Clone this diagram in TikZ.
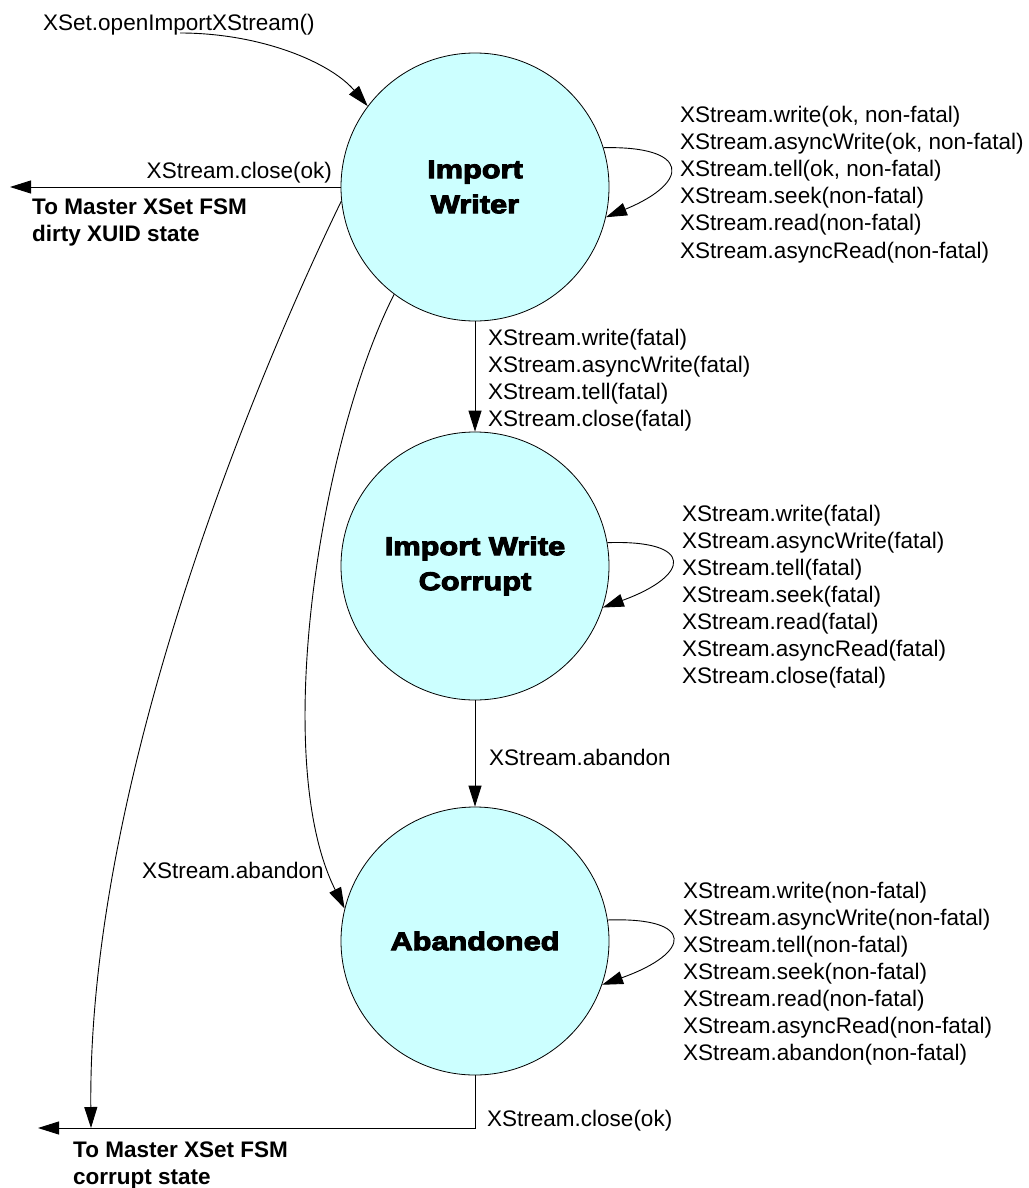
\documentclass[tikz,border=0pt]{standalone}
\usepackage{fontspec}
\setmainfont{Liberation Sans}
\newfontface\statefont{Liberation Sans Bold}[FakeStretch=1.2,FakeBold=4]
\usetikzlibrary{arrows.meta}
\definecolor{statecol}{HTML}{CCFFFF}
\begin{document}
\begin{tikzpicture}[x=1pt,y=-1pt,
  lbl/.style={font=\fontsize{22.5}{27}\selectfont, inner sep=0pt, anchor=base west},
  blbl/.style={font=\bfseries\fontsize{22.5}{27}\selectfont, inner sep=0pt, anchor=base west},
  state/.style={circle, draw=black, line width=0.8pt, fill=statecol, minimum size=268pt, inner sep=0pt,
    font=\statefont\fontsize{25.6}{35}\selectfont, align=center},
  arr/.style={line width=0.9pt, -{Triangle[length=21pt,width=13pt]}},
  plain/.style={line width=0.9pt}]
\useasboundingbox (0,0) rectangle (1028,1188);

% states
\node[state] (IW) at (475,187) {Import\\Writer};
\node[state] (IWC) at (475,566) {Import Write\\Corrupt};
\node[state] (AB) at (475,941) {Abandoned};

% helper coordinates
\coordinate (startTop) at (180,33);
\coordinate (dirtyEnd) at (10,187);
\coordinate (bend) at (475,1128);
\coordinate (corruptEnd) at (38,1128);
\coordinate (corruptHit) at (91,1128);

% connectors
\draw[arr] (startTop) .. controls (260,33) and (330,62) .. (IW.143);
\draw[arr] (IW.180) -- (dirtyEnd);
\draw[arr] (IW.south) -- (IWC.north);
\draw[arr] (IWC.south) -- (AB.north);
\draw[arr] (IW.186) .. controls (245,400) and (88,790) .. (corruptHit);
\draw[arr] (IW.233) .. controls (320,440) and (270,760) .. (AB.166);
\draw[arr] (IW.17) .. controls +(87,-2) and +(85,-35) .. (IW.-13);
\draw[arr] (IWC.10) .. controls +(88,-3) and +(88,-32) .. (IWC.-18);
\draw[arr] (AB.9) .. controls +(88,-3) and +(90,-32) .. (AB.-19);
\draw[arr] (AB.south) -- (bend) -- (corruptEnd);

% labels
\node[lbl] (tOpen) at (43,31) {XSet.openImportXStream()};
\node[lbl, anchor=base east] (tCloseOk) at (332,178) {XStream.close(ok)};
\node[blbl] (tDirty) at (32,214) {\begin{tabular}[t]{@{}l@{}}To Master XSet FSM\\dirty XUID state\end{tabular}};
\node[lbl] (tLoop1) at (680,123) {\begin{tabular}[t]{@{}l@{}}XStream.write(ok, non-fatal)\\XStream.asyncWrite(ok, non-fatal)\\XStream.tell(ok, non-fatal)\\XStream.seek(non-fatal)\\XStream.read(non-fatal)\\XStream.asyncRead(non-fatal)\end{tabular}};
\node[lbl] (tFatal) at (488,345) {\begin{tabular}[t]{@{}l@{}}XStream.write(fatal)\\XStream.asyncWrite(fatal)\\XStream.tell(fatal)\\XStream.close(fatal)\end{tabular}};
\node[lbl] (tLoop2) at (682,521) {\begin{tabular}[t]{@{}l@{}}XStream.write(fatal)\\XStream.asyncWrite(fatal)\\XStream.tell(fatal)\\XStream.seek(fatal)\\XStream.read(fatal)\\XStream.asyncRead(fatal)\\XStream.close(fatal)\end{tabular}};
\node[lbl] (tAband1) at (489,765) {XStream.abandon};
\node[lbl] (tAband2) at (142,878) {XStream.abandon};
\node[lbl] (tLoop3) at (683,898) {\begin{tabular}[t]{@{}l@{}}XStream.write(non-fatal)\\XStream.asyncWrite(non-fatal)\\XStream.tell(non-fatal)\\XStream.seek(non-fatal)\\XStream.read(non-fatal)\\XStream.asyncRead(non-fatal)\\XStream.abandon(non-fatal)\end{tabular}};
\node[lbl] (tCloseOk2) at (487,1126) {XStream.close(ok)};
\node[blbl] (tCorrupt) at (73,1157) {\begin{tabular}[t]{@{}l@{}}To Master XSet FSM\\corrupt state\end{tabular}};
\end{tikzpicture}
\end{document}
